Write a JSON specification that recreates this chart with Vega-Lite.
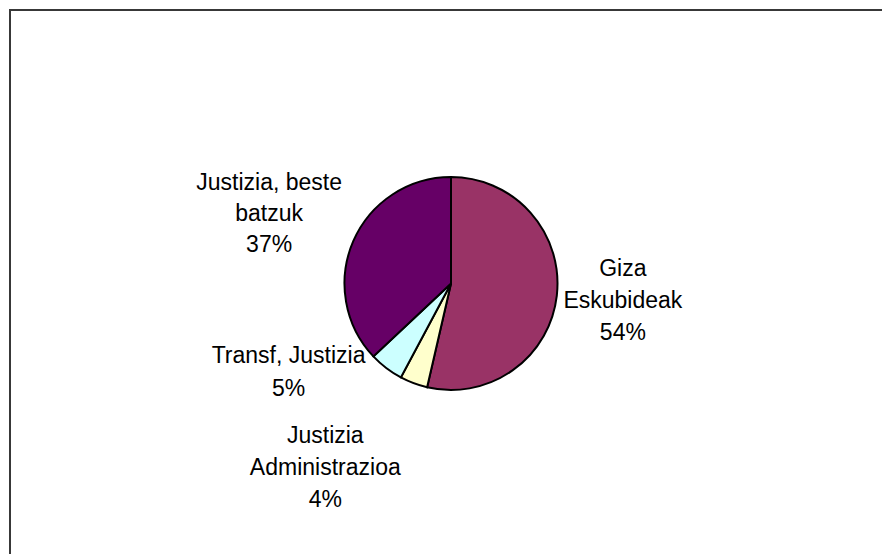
{
  "$schema": "https://vega.github.io/schema/vega-lite/v6.json",
  "autosize": {"type": "fit", "contains": "padding"},
  "width": 882,
  "height": 554,
  "padding": {"left": 10, "top": 10, "right": -10, "bottom": -3},
  "background": "white",
  "view": {"stroke": "#383838", "strokeWidth": 2},
  "config": {"view": {"stroke": "#383838", "strokeWidth": 2}},
  "data": {
    "values": [
      {"n": 1, "category": "Giza Eskubideak", "value": 53.6, "label": "Giza\nEskubideak\n54%"},
      {"n": 2, "category": "Justizia Administrazioa", "value": 4.2, "label": "Justizia\nAdministrazioa\n4%"},
      {"n": 3, "category": "Transf, Justizia", "value": 5.2, "label": "Transf, Justizia\n5%"},
      {"n": 4, "category": "Justizia, beste batzuk", "value": 37.0, "label": "Justizia, beste\nbatzuk\n37%"}
    ]
  },
  "encoding": {
    "theta": {"field": "value", "type": "quantitative", "stack": true},
    "order": {"field": "n", "type": "quantitative"}
  },
  "layer": [
    {
      "mark": {"type": "arc", "outerRadius": 106.5, "stroke": "black", "strokeWidth": 2},
      "encoding": {
        "color": {
          "field": "category",
          "type": "nominal",
          "scale": {
            "domain": ["Giza Eskubideak", "Justizia Administrazioa", "Transf, Justizia", "Justizia, beste batzuk"],
            "range": ["#993366", "#FFFFCC", "#CCFFFF", "#660066"]
          },
          "legend": null
        }
      }
    },
    {
      "mark": {"type": "text", "radius": 177, "dx": -4, "dy": -34, "font": "Liberation Sans", "fontSize": 23, "lineHeight": 32, "lineBreak": "\n", "align": "center", "baseline": "middle", "color": "#000000"},
      "encoding": {
        "detail": {"field": "category", "type": "nominal"},
        "text": {"condition": {"test": "datum.category === 'Giza Eskubideak'", "field": "label"}, "value": ""}
      }
    },
    {
      "mark": {"type": "text", "radius": 196, "dx": -2, "dy": -23, "font": "Liberation Sans", "fontSize": 23, "lineHeight": 31, "lineBreak": "\n", "align": "center", "baseline": "middle", "color": "#000000"},
      "encoding": {
        "detail": {"field": "category", "type": "nominal"},
        "text": {"condition": {"test": "datum.category === 'Justizia, beste batzuk'", "field": "label"}, "value": ""}
      }
    },
    {
      "mark": {"type": "text", "radius": 185, "dx": -50, "dy": -74, "font": "Liberation Sans", "fontSize": 23, "lineHeight": 33, "lineBreak": "\n", "align": "center", "baseline": "middle", "color": "#000000"},
      "encoding": {
        "detail": {"field": "category", "type": "nominal"},
        "text": {"condition": {"test": "datum.category === 'Transf, Justizia'", "field": "label"}, "value": ""}
      }
    },
    {
      "mark": {"type": "text", "radius": 196, "dx": -57, "dy": -31, "font": "Liberation Sans", "fontSize": 23, "lineHeight": 32, "lineBreak": "\n", "align": "center", "baseline": "middle", "color": "#000000"},
      "encoding": {
        "detail": {"field": "category", "type": "nominal"},
        "text": {"condition": {"test": "datum.category === 'Justizia Administrazioa'", "field": "label"}, "value": ""}
      }
    }
  ]
}
